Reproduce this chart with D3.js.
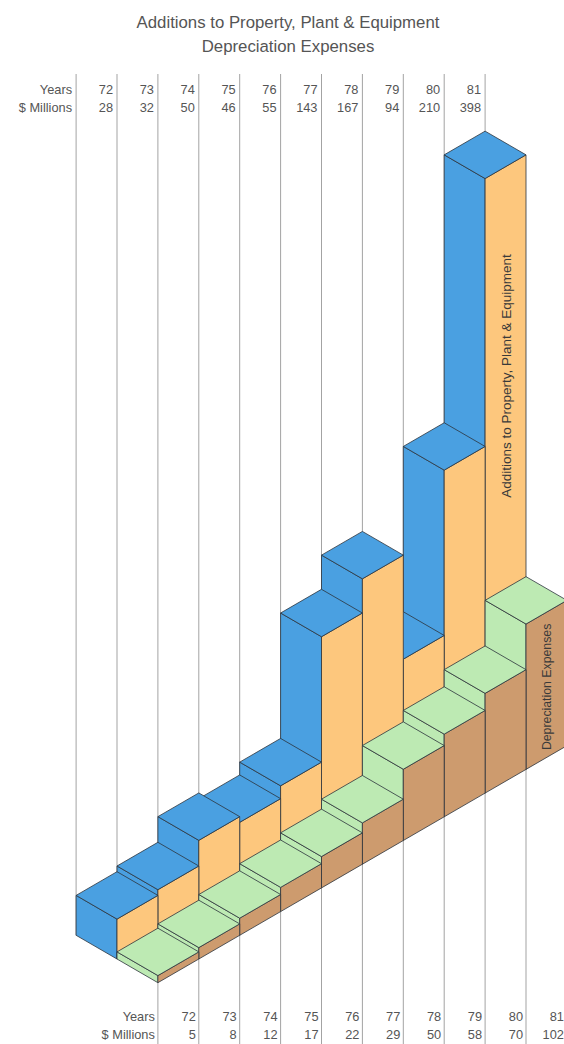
<!DOCTYPE html>
<html><head><meta charset="utf-8">
<script src="https://cdn.jsdelivr.net/npm/d3@7"></script>
<style>html,body{margin:0;padding:0;background:#fff;} svg{display:block;}</style>
</head><body>
<svg id="chart" width="564" height="1044"></svg>
<script>
// ---- data ----
const titleLines = ["Additions to Property, Plant & Equipment", "Depreciation Expenses"];
const rowLabels = ["Years", "$ Millions"];
const years = ["72","73","74","75","76","77","78","79","80","81"];
const additions = [28, 32, 50, 46, 55, 143, 167, 94, 210, 398];
const depreciation = [5, 8, 12, 17, 22, 29, 50, 58, 70, 102];
const seriesNames = ["Additions to Property, Plant & Equipment", "Depreciation Expenses"];

// ---- setup ----
const W = 564, H = 1044;
const svg = d3.select("#chart");
const FONT = "'Liberation Sans', Arial, Helvetica, sans-serif";
const colors = {
  addLeft: "#4aa0e1", addTop: "#4aa0e1", addRight: "#fdc77d",
  depLeft: "#bdeab3", depTop: "#bdeab3", depRight: "#cd9b6e",
  edge: "#2c333c", grid: "#a3a3a3", text: "#555"
};

// isometric scales: x advances with (u+v), y with (v-u); z is value height
const xIso = d3.scaleLinear().domain([0, 1]).range([117, 157.9]);
const yIso = d3.scaleLinear().domain([0, 1]).range([959, 982.7]);
const hScale = d3.scaleLinear().domain([0, 400]).range([0, 570]);
const P = (u, v, z) => [xIso(u + v), yIso(v - u) - hScale(z)];

// ---- title ----
svg.selectAll("text.title").data(titleLines).join("text")
  .attr("class", "title")
  .attr("x", 288).attr("y", (d, i) => 28 + i * 23.5)
  .attr("text-anchor", "middle")
  .attr("font-family", FONT).attr("font-size", 16.8)
  .attr("fill", colors.text)
  .text(d => d);

// ---- grid lines ----
const gridG = svg.append("g");
const topCols = d3.range(-1, 10);
gridG.selectAll("line.top").data(topCols).join("line")
  .attr("class", "top")
  .attr("x1", m => xIso(m)).attr("x2", m => xIso(m))
  .attr("y1", 74).attr("y2", m => yIso(-m - 2))
  .attr("stroke", colors.grid).attr("stroke-width", 1);
const botCols = d3.range(1, 11);
gridG.selectAll("line.bot").data(botCols).join("line")
  .attr("class", "bot")
  .attr("x1", m => xIso(m)).attr("x2", m => xIso(m))
  .attr("y1", m => yIso(2 - m)).attr("y2", H)
  .attr("stroke", colors.grid).attr("stroke-width", 1);

// ---- labels (tables) ----
function table(g, xs, baseY, valuesRow) {
  const rows = [years, valuesRow.map(String)];
  rowLabels.forEach((lab, r) => {
    g.append("text").attr("x", xs.label).attr("y", baseY + r * 17.5)
      .attr("text-anchor", "end").attr("font-family", FONT).attr("font-size", 12.8)
      .attr("fill", colors.text).text(lab);
    g.selectAll("text.r" + r).data(rows[r]).join("text")
      .attr("class", "r" + r)
      .attr("x", (d, i) => xs.col(i)).attr("y", baseY + r * 17.5)
      .attr("text-anchor", "end").attr("font-family", FONT).attr("font-size", 12.8)
      .attr("fill", colors.text).text(d => d);
  });
}
table(svg.append("g"), { label: xIso(-1) - 4, col: i => xIso(i) - 4 }, 94, additions);
table(svg.append("g"), { label: xIso(1) - 3, col: i => xIso(i + 2) - 3 }, 1021, depreciation);

// ---- boxes ----
function boxFaces(k, v0, h) {
  const u0 = k, u1 = k + 1, v1 = v0 + 1;
  return {
    left: [P(u0, v0, 0), P(u0, v1, 0), P(u0, v1, h), P(u0, v0, h)],
    right: [P(u0, v1, 0), P(u1, v1, 0), P(u1, v1, h), P(u0, v1, h)],
    top: [P(u0, v0, h), P(u0, v1, h), P(u1, v1, h), P(u1, v0, h)]
  };
}
function drawSeries(values, v0, cLeft, cTop, cRight) {
  const g = svg.append("g");
  const order = d3.range(values.length).reverse(); // back to front
  order.forEach(k => {
    const f = boxFaces(k, v0, values[k]);
    const bg = g.append("g");
    [["left", cLeft], ["right", cRight], ["top", cTop]].forEach(([name, c]) => {
      bg.append("path")
        .attr("d", "M" + f[name].map(p => p.join(",")).join("L") + "Z")
        .attr("fill", c).attr("stroke", colors.edge)
        .attr("stroke-width", 0.8).attr("stroke-linejoin", "round");
    });
  });
}
drawSeries(additions, -1, colors.addLeft, colors.addTop, colors.addRight);
drawSeries(depreciation, 0, colors.depLeft, colors.depTop, colors.depRight);

// ---- rotated series labels ----
const last = years.length - 1;
const addX = xIso(last + 0.5);
svg.append("text")
  .attr("transform", `translate(${addX + 1},376) rotate(-90)`)
  .attr("text-anchor", "middle").attr("dominant-baseline", "central")
  .attr("font-family", FONT).attr("font-size", 13.5).attr("fill", "#3a3a3a")
  .text(seriesNames[0]);
const depX = xIso(last + 1.5);
const depMidY = yIso(1 - (last + 0.5)) - hScale(depreciation[last]) / 2 + 2;
svg.append("text")
  .attr("transform", `translate(${depX + 1},${depMidY}) rotate(-90)`)
  .attr("text-anchor", "middle").attr("dominant-baseline", "central")
  .attr("font-family", FONT).attr("font-size", 12.3).attr("fill", "#3a3a3a")
  .text(seriesNames[1]);
</script>
</body></html>
